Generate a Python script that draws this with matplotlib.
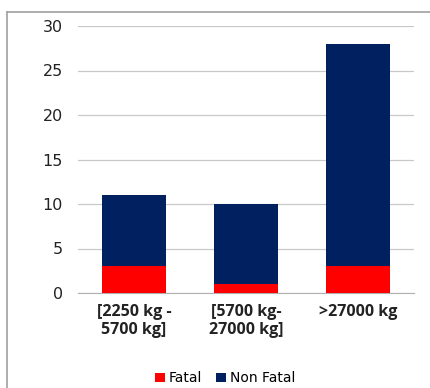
import matplotlib.pyplot as plt
import numpy as np
from matplotlib.lines import Line2D

categories = ["[2250 kg -\n5700 kg]", "[5700 kg-\n27000 kg]", ">27000 kg"]
fatal = [3, 1, 3]
non_fatal = [8, 9, 25]

fig = plt.figure(figsize=(4.30, 3.88), dpi=100)
ax = fig.add_axes([78 / 430, 1 - 293 / 388, 336 / 430, 267 / 388])

x = np.arange(len(categories))
w = 0.57
ax.bar(x, fatal, w, color="#ff0000", label="Fatal", zorder=3)
ax.bar(x, non_fatal, w, bottom=fatal, color="#002060", label="Non Fatal", zorder=3)

ax.set_xlim(-0.5, 2.5)
ax.set_ylim(0, 30)
ax.set_yticks(range(0, 31, 5))
ax.yaxis.grid(True, color="#c8c8c8", linewidth=0.9, zorder=0)
for s in ["top", "right", "left"]:
    ax.spines[s].set_visible(False)
ax.spines["bottom"].set_color("#b0b0b0")
ax.tick_params(axis="y", length=0, pad=11, labelsize=11.5, labelcolor="#222222")
ax.tick_params(axis="x", length=0, pad=8)
ax.set_xticks(x)
ax.set_xticklabels(categories, fontsize=11.5, fontweight="bold",
                   family="Open Sans", color="#222222", linespacing=1.15)

ax.legend(loc="center", bbox_to_anchor=(0.4375, -0.32), ncol=2, frameon=False,
          fontsize=10, handlelength=0.7, handleheight=0.7, handletextpad=0.3,
          columnspacing=1.0)

# chart border
fig.add_artist(Line2D([7 / 430, 7 / 430], [1 - 12 / 388, 0], transform=fig.transFigure,
                      color="#a0a0a0", linewidth=1.2))
fig.add_artist(Line2D([7 / 430, 1], [1 - 12 / 388, 1 - 12 / 388], transform=fig.transFigure,
                      color="#a0a0a0", linewidth=1.2))

fig.savefig("out.png", dpi=100)
